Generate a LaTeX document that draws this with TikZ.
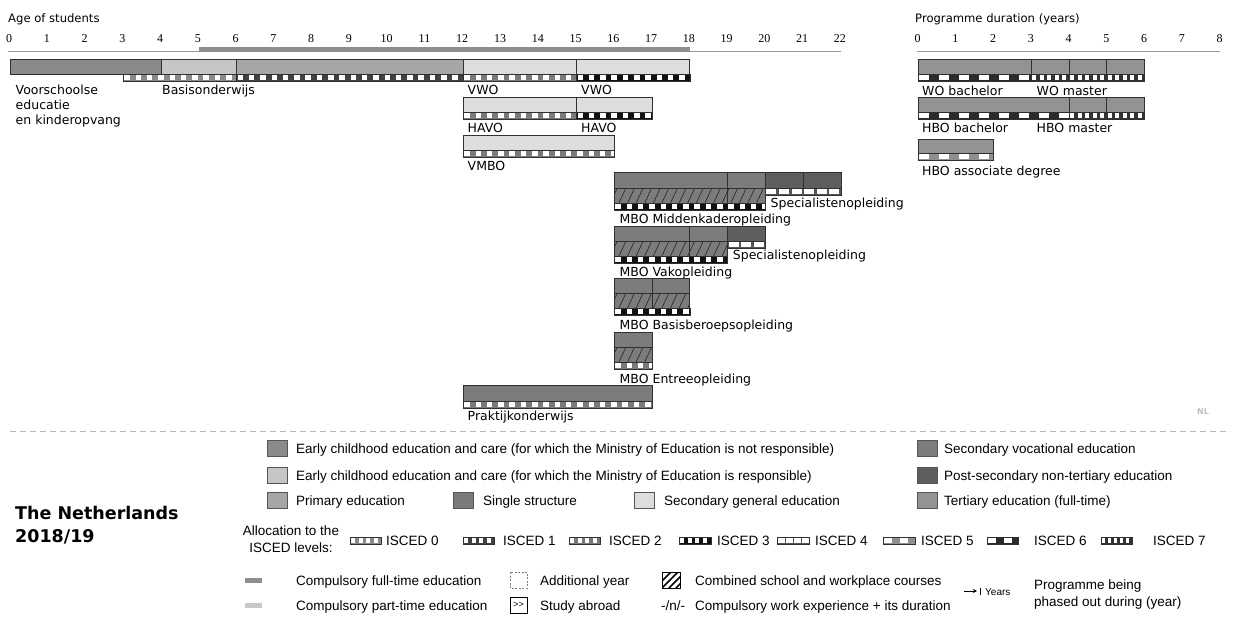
\documentclass[tikz,border=0pt]{standalone}
\usepackage{fontspec}
\setmainfont{DejaVu Sans}
\newfontfamily\arialf{Liberation Sans}
\newfontfamily\seriff{Liberation Serif}
\usetikzlibrary{arrows.meta}
\definecolor{ecnr}{HTML}{8A8A8A}
\definecolor{ecr}{HTML}{C6C6C6}
\definecolor{prim}{HTML}{A6A6A6}
\definecolor{single}{HTML}{7A7A7A}
\definecolor{secgen}{HTML}{DDDDDD}
\definecolor{secvoc}{HTML}{7C7C7C}
\definecolor{postsec}{HTML}{5E5E5E}
\definecolor{tert}{HTML}{939393}
\definecolor{outl}{HTML}{303030}
\definecolor{isA}{HTML}{8A8A8A}
\definecolor{isB}{HTML}{404040}
\definecolor{isC}{HTML}{7A7A7A}
\definecolor{isD}{HTML}{111111}
\definecolor{isE}{HTML}{555555}
\definecolor{isF}{HTML}{909090}
\definecolor{isG}{HTML}{2A2A2A}
\definecolor{isH}{HTML}{333333}
\definecolor{hatchc}{HTML}{222222}
\definecolor{axisgray}{HTML}{9A9A9A}
\definecolor{compft}{HTML}{8E8E8E}
\definecolor{comppt}{HTML}{C8C8C8}
\definecolor{swline}{HTML}{555555}
% strip: x1 x2 ytop color period whitewidth
\newcommand\isstrip[6]{%
  \pgfmathsetmacro\sxa{#1}\pgfmathsetmacro\sxb{#2}%
  \pgfmathtruncatemacro\sn{(\sxb-\sxa)/(#5)}%
  \fill[#4] (\sxa,#3) rectangle (\sxb,#3+7);
  \begin{scope}
    \clip (\sxa,#3) rectangle (\sxb,#3+7);
    \foreach \k in {0,...,\sn}{\fill[white] ({\sxa+1+\k*(#5)},#3+1.4) rectangle ({\sxa+1+\k*(#5)+#6},#3+5.6);}
  \end{scope}
  \draw[outl,line width=0.6pt] (\sxa,#3) rectangle (\sxb,#3+7);
}
\newcommand\lstrip[6]{\isstrip{10+37.77*(#1)}{10+37.77*(#2)}{#3}{#4}{#5}{#6}}
\newcommand\rstrip[6]{\isstrip{918+37.75*(#1)}{918+37.75*(#2)}{#3}{#4}{#5}{#6}}
\newcommand\seg[5]{\filldraw[bar,fill=#5] ({10+37.77*(#1)},#3) rectangle ({10+37.77*(#2)},#4);}
\newcommand\rseg[5]{\filldraw[bar,fill=#5] ({918+37.75*(#1)},#3) rectangle ({918+37.75*(#2)},#4);}
% hatch: a1 a2 ytop ybot
\newcommand\hatch[4]{%
  \pgfmathsetmacro\hxa{10+37.77*(#1)}\pgfmathsetmacro\hxb{10+37.77*(#2)}%
  \pgfmathtruncatemacro\hn{(\hxb-\hxa)/8.6+2}%
  \fill[secvoc] (\hxa,#3) rectangle (\hxb,#4);
  \begin{scope}
    \clip (\hxa,#3) rectangle (\hxb,#4);
    \foreach \k in {0,...,\hn}{\draw[hatchc,line width=0.6pt] ({\hxa-4+\k*8.6},#4) -- ({\hxa+3+\k*8.6},#3);}
  \end{scope}
  \draw[bar] (\hxa,#3) rectangle (\hxb,#4);
}
\newcommand\vsep[3]{\draw[bar] ({10+37.77*(#1)},#2) -- ({10+37.77*(#1)},#3);}
\begin{document}
\begin{tikzpicture}[x=1pt,y=-1pt,
  bar/.style={draw=outl,line width=0.8pt},
  lbl/.style={anchor=base west,inner sep=0pt,font=\fontsize{12.5}{14}\selectfont},
  hdr/.style={anchor=base west,inner sep=0pt,font=\fontsize{11.6}{13}\selectfont},
  tick/.style={anchor=base,inner sep=0pt,font=\seriff\fontsize{12}{13}\selectfont},
  leg/.style={anchor=base west,inner sep=0pt,font=\arialf\fontsize{13.5}{15}\selectfont},
  legc/.style={anchor=base,inner sep=0pt,font=\arialf\fontsize{13.5}{15}\selectfont},
  sw/.style={draw=swline,line width=0.6pt}]
\useasboundingbox[fill=white] (0,0) rectangle (1233,619);

% headers
\node[hdr] (hage) at (8,22.5) {Age of students};
\node[hdr] (hdur) at (915,22.5) {Programme duration (years)};
\foreach \a in {0,...,22}{\node[tick] (tl\a) at ({9+37.77*\a},42.3) {\a};}
\foreach \a in {0,...,8}{\node[tick] (tr\a) at ({917.5+37.75*\a},42.3) {\a};}
% axes
\draw[axisgray,line width=1.2pt] (8,51.5) -- (841,51.5);
\fill[compft] ({10+37.77*5},46.8) rectangle ({10+37.77*18},51.9);
\draw[axisgray,line width=1.2pt] (916.5,51.5) -- (1220,51.5);

% row 1
\seg{0}{4}{59}{74}{ecnr}
\seg{4}{6}{59}{74}{ecr}
\seg{6}{12}{59}{74}{prim}
\seg{12}{15}{59}{74}{secgen}
\seg{15}{18}{59}{74}{secgen}
\lstrip{3}{6}{74}{isA}{11.3}{5.5}
\lstrip{6}{12}{74}{isB}{11.3}{5.5}
\lstrip{12}{15}{74}{isC}{11.3}{5.5}
\lstrip{15}{18}{74}{isD}{11.3}{5.5}
\node[lbl] (voor1) at (15.5,94.5) {Voorschoolse};
\node[lbl] (voor2) at (15.5,109.5) {educatie};
\node[lbl] (voor3) at (15.5,124) {en kinderopvang};
\node[lbl] (basis) at (162,94.5) {Basisonderwijs};
\node[lbl] (vwo1) at (467.5,94.5) {VWO};
\node[lbl] (vwo2) at (581,94.5) {VWO};
% row 2
\seg{12}{15}{97}{112}{secgen}
\seg{15}{17}{97}{112}{secgen}
\lstrip{12}{15}{112}{isC}{11.3}{5.5}
\lstrip{15}{17}{112}{isD}{11.3}{5.5}
\node[lbl] (havo1) at (467.5,132.5) {HAVO};
\node[lbl] (havo2) at (581,132.5) {HAVO};
% row 3
\seg{12}{16}{135}{150}{secgen}
\lstrip{12}{16}{150}{isC}{11.3}{5.5}
\node[lbl] (vmbo) at (467.5,170.5) {VMBO};
% row 4
\seg{16}{19}{172}{188}{secvoc}
\seg{19}{20}{172}{188}{secvoc}
\seg{20}{21}{172}{188}{postsec}
\seg{21}{22}{172}{188}{postsec}
\hatch{16}{20}{188}{203}
\vsep{19}{188}{203}
\lstrip{16}{20}{203}{isD}{11.3}{5.5}
\lstrip{20}{22}{188}{isE}{12.6}{10}
\node[lbl] (spec1) at (770.5,207.5) {Specialistenopleiding};
\node[lbl] (mbomk) at (619.5,223) {MBO Middenkaderopleiding};
% row 5
\seg{16}{18}{226}{241}{secvoc}
\seg{18}{19}{226}{241}{secvoc}
\seg{19}{20}{226}{241}{postsec}
\hatch{16}{19}{241}{256}
\vsep{18}{241}{256}
\lstrip{16}{19}{256}{isD}{11.3}{5.5}
\lstrip{19}{20}{241}{isE}{12.6}{10}
\node[lbl] (spec2) at (732.7,259.5) {Specialistenopleiding};
\node[lbl] (mbovak) at (619.5,276) {MBO Vakopleiding};
% row 6
\seg{16}{17}{278}{293}{secvoc}
\seg{17}{18}{278}{293}{secvoc}
\hatch{16}{18}{293}{308}
\vsep{17}{293}{308}
\lstrip{16}{18}{308}{isD}{11.3}{5.5}
\node[lbl] (mbobb) at (619.5,329.3) {MBO Basisberoepsopleiding};
% row 7
\seg{16}{17}{332}{347}{secvoc}
\hatch{16}{17}{347}{362}
\lstrip{16}{17}{362}{isC}{11.3}{5.5}
\node[lbl] (mboent) at (619.5,383.3) {MBO Entreeopleiding};
% row 8
\seg{12}{17}{385}{401}{secvoc}
\lstrip{12}{17}{401}{isC}{11.3}{5.5}
\node[lbl] (prak) at (467.5,420.7) {Praktijkonderwijs};

% right side
\rseg{0}{3}{59}{74}{tert}
\rseg{3}{4}{59}{74}{tert}
\rseg{4}{5}{59}{74}{tert}
\rseg{5}{6}{59}{74}{tert}
\rstrip{0}{3}{74}{isG}{20}{9.5}
\rstrip{3}{6}{74}{isH}{7.55}{4}
\node[lbl] (wob) at (922,95) {WO bachelor};
\node[lbl] (wom) at (1036.5,95) {WO master};
\rseg{0}{4}{97}{112}{tert}
\rseg{4}{5}{97}{112}{tert}
\rseg{5}{6}{97}{112}{tert}
\rstrip{0}{4}{112}{isG}{20}{9.5}
\rstrip{4}{6}{112}{isH}{7.55}{4}
\node[lbl] (hbob) at (922,132.7) {HBO bachelor};
\node[lbl] (hbom) at (1036.5,132.7) {HBO master};
\rseg{0}{2}{139}{153}{tert}
\rstrip{0}{2}{153}{isF}{20}{9.5}
\node[lbl] (hboa) at (922,175) {HBO associate degree};

\node[anchor=base west,inner sep=0pt,font=\bfseries\fontsize{8}{9}\selectfont,text=gray!50] (nl) at (1197,414.5) {NL};

% separator
\draw[gray!55,line width=0.8pt,dash pattern=on 6pt off 4pt] (10,431) -- (1230,431);

% legend colours
\filldraw[sw,fill=ecnr] (267,440) rectangle (287,456);
\node[leg] (l1) at (296,453) {Early childhood education and care (for which the Ministry of Education is not responsible)};
\filldraw[sw,fill=ecr] (267,467) rectangle (287,483);
\node[leg] (l2) at (296,480) {Early childhood education and care (for which the Ministry of Education is responsible)};
\filldraw[sw,fill=prim] (267,492) rectangle (287,508);
\node[leg] (l3) at (296,505) {Primary education};
\filldraw[sw,fill=single] (453,492) rectangle (473,508);
\node[leg] (l4) at (483,505) {Single structure};
\filldraw[sw,fill=secgen] (634,492) rectangle (654,508);
\node[leg] (l5) at (664,505) {Secondary general education};
\filldraw[sw,fill=secvoc] (917,440) rectangle (937,456);
\node[leg] (l6) at (944,453) {Secondary vocational education};
\filldraw[sw,fill=postsec] (917,467) rectangle (937,483);
\node[leg] (l7) at (944,480) {Post-secondary non-tertiary education};
\filldraw[sw,fill=tert] (917,492) rectangle (937,508);
\node[leg] (l8) at (944,505) {Tertiary education (full-time)};

% title
\node[anchor=base west,inner sep=0pt,font=\bfseries\fontsize{17.5}{20}\selectfont] (t1) at (15,519) {The Netherlands};
\node[anchor=base west,inner sep=0pt,font=\bfseries\fontsize{17.5}{20}\selectfont] (t2) at (15,542) {2018/19};

% ISCED legend
\node[legc] (al1) at (291,535.5) {Allocation to the};
\node[legc] (al2) at (291,552) {ISCED levels:};
\isstrip{350}{381}{537}{isA}{7.7}{3.8}
\node[leg] (i0) at (386,545) {ISCED 0};
\isstrip{463}{494}{537}{isB}{7.7}{3.8}
\node[leg] (i1) at (503,545) {ISCED 1};
\isstrip{569}{600}{537}{isC}{7.7}{3.8}
\node[leg] (i2) at (609,545) {ISCED 2};
\isstrip{679}{711}{537}{isD}{7.7}{3.8}
\node[leg] (i3) at (717,545) {ISCED 3};
\isstrip{777}{809}{537}{isE}{8}{6.5}
\node[leg] (i4) at (815,545) {ISCED 4};
\isstrip{883}{915}{537}{isF}{16}{7.5}
\node[leg] (i5) at (921,545) {ISCED 5};
\isstrip{987}{1018}{537}{isG}{16}{7.5}
\node[leg] (i6) at (1034,545) {ISCED 6};
\isstrip{1101}{1132}{537}{isH}{6}{3}
\node[leg] (i7) at (1153,545) {ISCED 7};

% bottom legend
\fill[compft] (245,577.5) rectangle (262,582.5);
\node[leg] (b1) at (296,585) {Compulsory full-time education};
\fill[comppt] (245,602.5) rectangle (262,607.5);
\node[leg] (b2) at (296,610) {Compulsory part-time education};
\draw[gray,line width=0.6pt,dash pattern=on 2pt off 1.5pt] (510,572) rectangle (527,588);
\node[leg] (b3) at (540,585) {Additional year};
\node[draw=black,line width=0.6pt,minimum width=17pt,minimum height=16pt,inner sep=0pt,font=\arialf\fontsize{9}{10}\selectfont] (abroad) at (518.5,605) {>>};
\node[leg] (b4) at (540,610) {Study abroad};
\begin{scope}
  \clip (662,572) rectangle (680,588);
  \fill[white] (662,572) rectangle (680,588);
  \foreach \k in {-1,0,1,2}{\draw[black,line width=1.6pt] ({662+\k*7},588) -- ({662+\k*7+16},572);}
\end{scope}
\draw[black,line width=0.8pt] (662,572) rectangle (680,588);
\node[leg] (b5) at (695,585) {Combined school and workplace courses};
\node[leg] (b6) at (661,610) {-/n/-};
\node[leg] (b7) at (695,610) {Compulsory work experience + its duration};
\coordinate (arA) at (964,591);
\coordinate (arB) at (977,591);
\draw[-{Stealth[length=4pt,width=4pt]},line width=0.8pt] (arA) -- (arB);
\draw[line width=0.8pt] (980.5,587.5) -- (980.5,594.5);
\node[anchor=base west,inner sep=0pt,font=\arialf\fontsize{10}{11}\selectfont] (yrs) at (985,595) {Years};
\node[leg] (p1) at (1034,589) {Programme being};
\node[leg] (p2) at (1034,606) {phased out during (year)};
\end{tikzpicture}
\end{document}
